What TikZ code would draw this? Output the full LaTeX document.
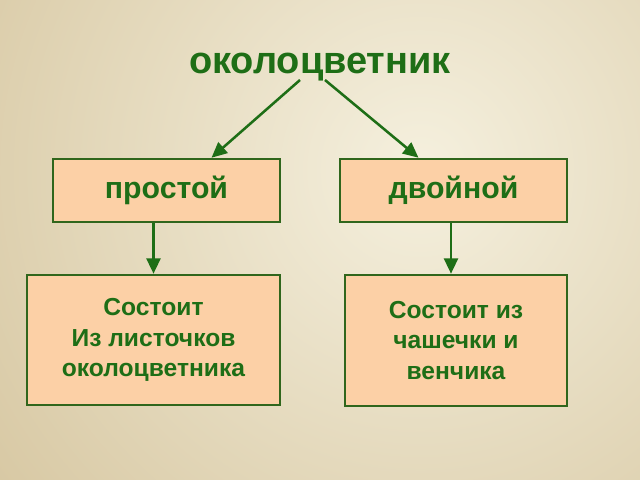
\documentclass[tikz,border=0pt]{standalone}
\usepackage{fontspec}
\setmainfont{Liberation Sans}
\usetikzlibrary{arrows.meta,calc}

\definecolor{leafgreen}{RGB}{30,110,22}
\definecolor{rimgreen}{RGB}{48,102,28}
\definecolor{peach}{RGB}{252,208,166}
\definecolor{bglight}{RGB}{245,240,222}
\definecolor{bgdark}{RGB}{214,198,160}

\tikzset{
  partbox/.style={draw=rimgreen, line width=1.8pt, fill=peach, text=leafgreen,
    font=\bfseries, align=center, inner sep=0pt},
  linkarrow/.style={-{Triangle[length=11pt,width=10pt]}, draw=leafgreen, line width=1.8pt}
}

\begin{document}
\begin{tikzpicture}[x=0.025cm, y=-0.025cm]
    % Background with soft radial light
    \useasboundingbox (0,0) rectangle (640,480);
    \begin{scope}
      \clip (0,0) rectangle (640,480);
      \shade[inner color=bglight, outer color=bgdark] (420,170) circle (560);
    \end{scope}

    % Title
    \node[text=leafgreen, font=\fontsize{27}{32}\selectfont\bfseries, anchor=base] (title) at (320,73) {околоцветник};

    % Two kinds
    \node[partbox, minimum width=5.675cm, minimum height=1.575cm, font=\fontsize{21.5}{25}\selectfont\bfseries] (simple) at (166.5,190.5) {простой};
    \node[partbox, minimum width=5.675cm, minimum height=1.575cm, font=\fontsize{21.5}{25}\selectfont\bfseries] (double) at (453.5,190.5) {двойной};

    % Descriptions
    \node[partbox, minimum width=6.325cm, minimum height=3.25cm, font=\fontsize{17.5}{21.5}\selectfont\bfseries] (simpledesc) at (153.5,340) {Состоит\\Из листочков\\околоцветника};
    \node[partbox, minimum width=5.55cm, minimum height=3.275cm, font=\fontsize{17.5}{21.5}\selectfont\bfseries] (doubledesc) at (456,340.5) {Состоит из\\чашечки и\\венчика};

    % Arrows
    \draw[linkarrow] ($(title.base)+(-20,7)$) -- ($(simple.north)+(45,0)$);
    \draw[linkarrow] ($(title.base)+(5,7)$) -- ($(double.north)+(-35,0)$);
    \draw[linkarrow] (simpledesc.north |- simple.south) -- (simpledesc.north);
    \draw[linkarrow] ($(doubledesc.north |- double.south)+(-5,0)$) -- ($(doubledesc.north)+(-5,0)$);
\end{tikzpicture}
\end{document}
